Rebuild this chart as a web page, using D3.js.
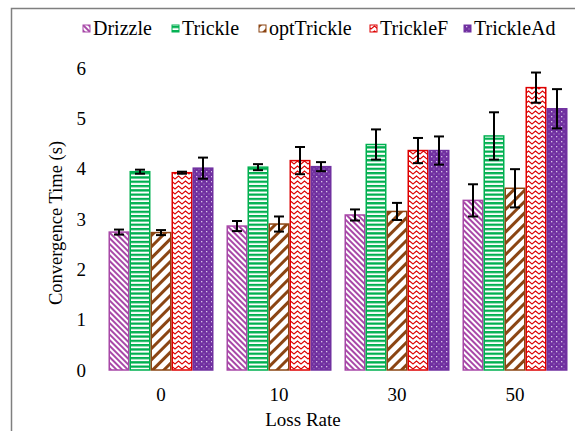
<!DOCTYPE html>
<html><head><meta charset="utf-8">
<script src="https://cdn.jsdelivr.net/npm/d3@7"></script>
<style>html,body{margin:0;padding:0;background:#fff;}svg{display:block;}</style>
</head><body>
<svg id="chart" width="575" height="431"></svg>
<script>
const categories = ["0", "10", "30", "50"];
const seriesNames = ["Drizzle", "Trickle", "optTrickle", "TrickleF", "TrickleAd"];
const drizzle    = [2.74, 2.86, 3.08, 3.37];
const trickle    = [3.94, 4.03, 4.48, 4.65];
const optTrickle = [2.73, 2.90, 3.15, 3.61];
const trickleF   = [3.92, 4.16, 4.36, 5.61];
const trickleAd  = [4.01, 4.04, 4.36, 5.19];
const drizzleErr    = [0.05, 0.10, 0.11, 0.32];
const trickleErr    = [0.04, 0.06, 0.30, 0.47];
const optTrickleErr = [0.05, 0.15, 0.17, 0.38];
const trickleFErr   = [0.02, 0.27, 0.25, 0.30];
const trickleAdErr  = [0.21, 0.09, 0.28, 0.39];
const yTicks = [0, 1, 2, 3, 4, 5, 6];

const values = [drizzle, trickle, optTrickle, trickleF, trickleAd];
const errors = [drizzleErr, trickleErr, optTrickleErr, trickleFErr, trickleAdErr];
const colors = ["#A848A8", "#00B050", "#8B4513", "#DD0000", "#7030A0"];

const svg = d3.select("#chart");
const defs = svg.append("defs");
const font = '"Liberation Serif"';

// patterns
let p = defs.append("pattern").attr("id","pat0").attr("patternUnits","userSpaceOnUse")
  .attr("width",4).attr("height",4).attr("patternTransform","rotate(-45)");
p.append("rect").attr("width",4).attr("height",4).attr("fill","#fff");
p.append("rect").attr("width",2).attr("height",4).attr("fill",colors[0]);

p = defs.append("pattern").attr("id","pat1").attr("patternUnits","userSpaceOnUse")
  .attr("width",4).attr("height",4.3);
p.append("rect").attr("width",4).attr("height",4.3).attr("fill","#fff");
p.append("rect").attr("width",4).attr("height",2.3).attr("fill",colors[1]);

p = defs.append("pattern").attr("id","pat2").attr("patternUnits","userSpaceOnUse")
  .attr("width",8).attr("height",8).attr("patternTransform","rotate(45)");
p.append("rect").attr("width",8).attr("height",8).attr("fill","#fff");
p.append("rect").attr("width",3).attr("height",8).attr("fill",colors[2]);

p = defs.append("pattern").attr("id","pat3").attr("patternUnits","userSpaceOnUse")
  .attr("width",7).attr("height",5);
p.append("rect").attr("width",7).attr("height",5).attr("fill","#fff");
p.append("path").attr("d","M-1,4.5 L0,4 L3.5,1 L7,4 L8,4.5").attr("fill","none")
  .attr("stroke",colors[3]).attr("stroke-width",1.1);

p = defs.append("pattern").attr("id","pat4").attr("patternUnits","userSpaceOnUse")
  .attr("width",5).attr("height",5);
p.append("rect").attr("width",5).attr("height",5).attr("fill",colors[4]);
p.append("rect").attr("x",1).attr("y",1).attr("width",1.3).attr("height",1.3).attr("fill","#d8c4e8");
p.append("rect").attr("x",3.5).attr("y",3.5).attr("width",1).attr("height",1).attr("fill","#b898d0");

// border
svg.append("path").attr("d","M11.5,431 L11.5,8.5 L575,8.5").attr("fill","none")
  .attr("stroke","#7f7f7f").attr("stroke-width",1.5);

const x0 = d3.scaleBand().domain(categories).range([102, 574]).paddingInner(0.11).paddingOuter(0.055);
const x1 = d3.scaleBand().domain(seriesNames).range([0, x0.bandwidth()]);
const y = d3.scaleLinear().domain([0, 6]).range([370, 68]);

const g = svg.append("g");
seriesNames.forEach((s, si) => {
  const sg = g.append("g");
  sg.selectAll("rect").data(categories).join("rect")
    .attr("x", c => x0(c) + x1(s) + 0.75)
    .attr("y", (c, i) => y(values[si][i]))
    .attr("width", x1.bandwidth() - 1.5)
    .attr("height", (c, i) => y(0) - y(values[si][i]))
    .attr("fill", `url(#pat${si})`)
    .attr("stroke", colors[si]).attr("stroke-width", 1.5);
});
// error bars
seriesNames.forEach((s, si) => {
  categories.forEach((c, i) => {
    const cx = x0(c) + x1(s) + x1.bandwidth() / 2;
    const v = values[si][i], e = errors[si][i];
    const eg = g.append("g").attr("stroke", "#000").attr("stroke-width", 2);
    eg.append("line").attr("x1", cx).attr("x2", cx).attr("y1", y(v + e)).attr("y2", y(v - e));
    eg.append("line").attr("x1", cx - 5).attr("x2", cx + 5).attr("y1", y(v + e)).attr("y2", y(v + e));
    eg.append("line").attr("x1", cx - 5).attr("x2", cx + 5).attr("y1", y(v - e)).attr("y2", y(v - e));
  });
});

// y axis
const ya = svg.append("g").attr("transform", "translate(86,0)")
  .call(d3.axisLeft(y).tickValues(yTicks).tickSize(0).tickPadding(0).tickFormat(d3.format("d")));
ya.attr("font-family", null).attr("font-size", null);
ya.select(".domain").remove();
ya.selectAll("text").style("font-family", font).style("font-size", "19px").attr("fill", "#000");

// x axis
const xa = svg.append("g").attr("transform", "translate(0,387)")
  .call(d3.axisBottom(x0).tickSize(0).tickPadding(0));
xa.attr("font-family", null).attr("font-size", null);
xa.select(".domain").remove();
xa.selectAll("text").style("font-family", font).style("font-size", "19px").attr("fill", "#000");

svg.append("text").attr("x", 303).attr("y", 426).attr("text-anchor", "middle")
  .style("font-family", font).style("font-size", "19px").text("Loss Rate");
svg.append("text").attr("transform", "translate(62,223) rotate(-90)").attr("text-anchor", "middle")
  .style("font-family", font).style("font-size", "18.5px").text("Convergence Time (s)");

// legend
const legendX = [83, 172, 259, 370, 464];
const lg = svg.append("g");
seriesNames.forEach((s, si) => {
  lg.append("rect").attr("x", legendX[si]).attr("y", 25).attr("width", 7).attr("height", 7)
    .attr("fill", `url(#pat${si})`).attr("stroke", colors[si]).attr("stroke-width", 1);
  lg.append("text").attr("x", legendX[si] + 10).attr("y", 35).style("font-family", font)
    .style("font-size", "20px").text(s);
});
</script>
</body></html>
